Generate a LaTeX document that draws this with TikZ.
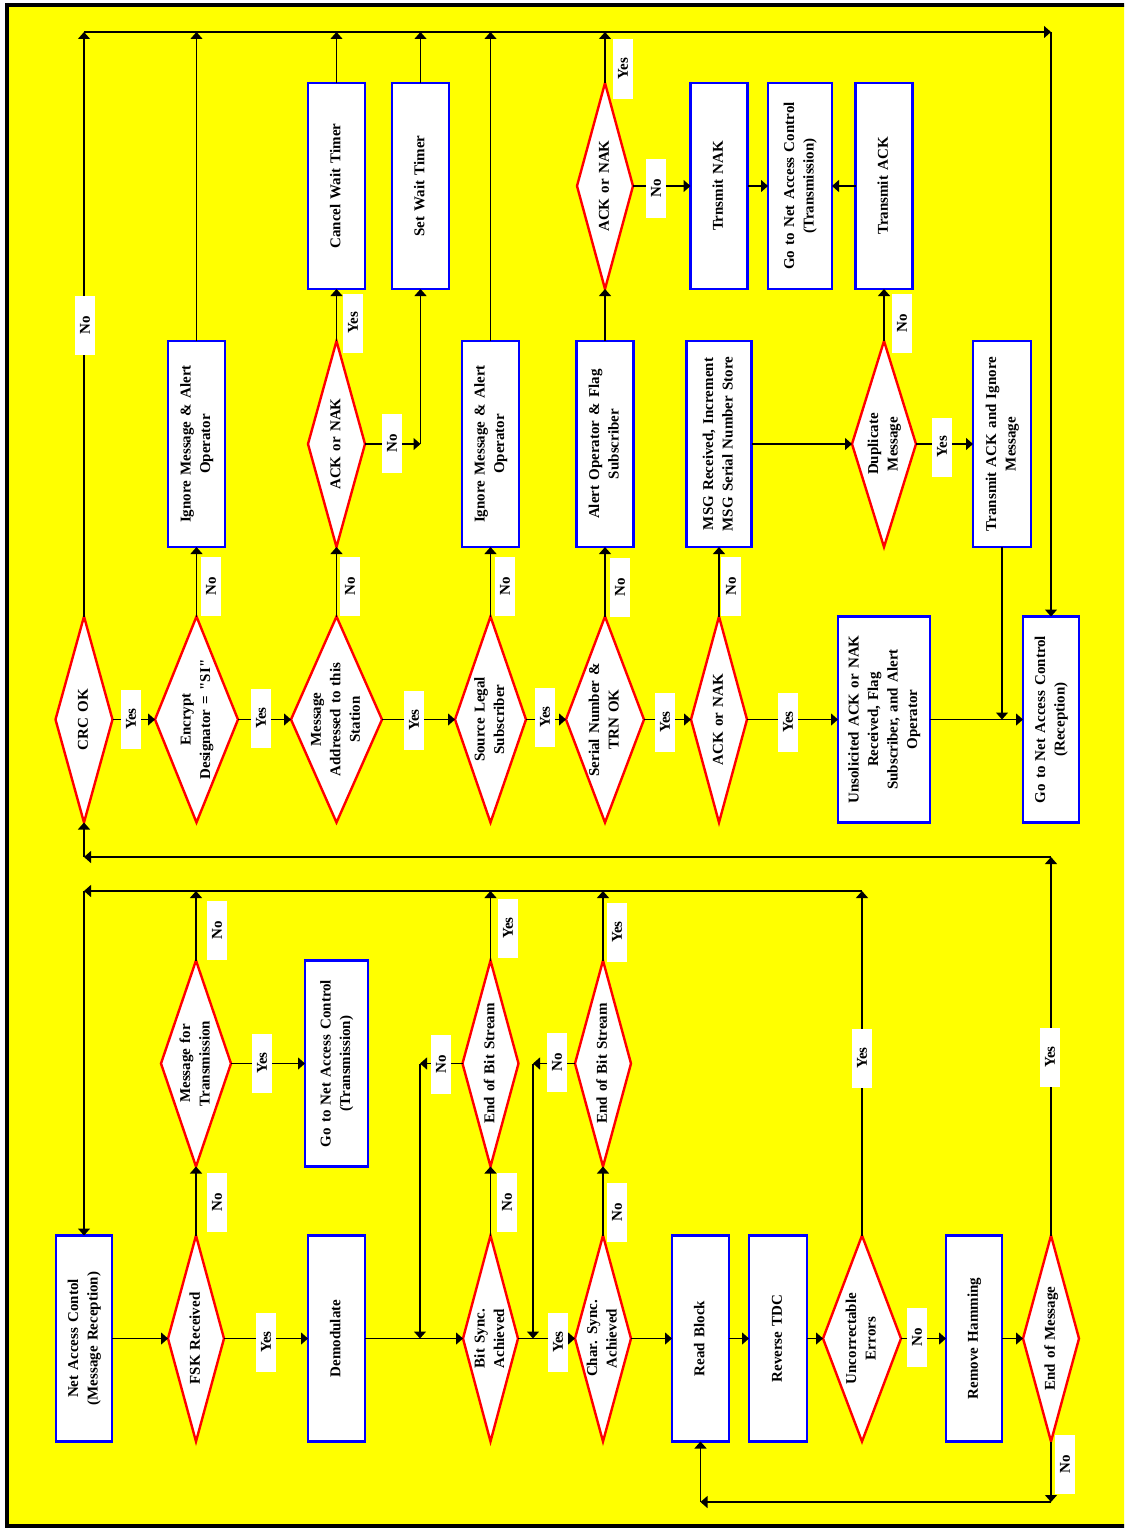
\documentclass[tikz,border=0pt]{standalone}
\usepackage{fontspec}
\setmainfont{Liberation Serif}[Ligatures=TeXOff,WordSpace=1.4]
\usetikzlibrary{shapes.geometric,arrows.meta,calc}
\definecolor{bgyel}{RGB}{255,255,0}
\definecolor{boxblue}{RGB}{0,0,255}
\definecolor{diared}{RGB}{255,0,0}
\newcommand\myfont{\fontsize{15}{19.5}\selectfont\bfseries}
\newcommand\rottxt[1]{\rotatebox{90}{\begin{tabular}{@{}c@{}}#1\end{tabular}}}
\tikzset{
  box/.style={draw=boxblue, line width=2.6pt, fill=white, inner sep=0pt, outer sep=0pt, minimum height=206pt, font=\myfont},
  dia/.style={diamond, draw=diared, line width=2.4pt, fill=white, inner sep=0pt, outer sep=0pt, minimum height=206pt},
  dtxt/.style={font=\myfont, inner sep=0pt},
  lab/.style={fill=white, inner sep=0pt, minimum width=20pt, minimum height=59pt, font=\myfont},
  arr/.style={-{Triangle[length=7pt,width=12pt]}, line width=1.3pt},
}
\begin{document}
\begin{tikzpicture}[x=1pt,y=-1pt]
\useasboundingbox (0,0) rectangle (1124,1528);
\fill[white] (0,0) rectangle (1124,1528);
\begin{scope}
\clip (0,0) rectangle (1124,1528);
\draw[line width=4pt, fill=bgyel] (6.5,5) rectangle (1140,1525.5);
\end{scope}
\coordinate (ytop) at (0,32);
\coordinate (yb1) at (0,857);
\coordinate (yb2) at (0,891);
\coordinate (yb3) at (0,1502);
\coordinate (j1) at (420,0);
\coordinate (j2) at (533,0);

% ---------- top half, main row ----------
\node[dia,minimum width=57pt,label={[dtxt]center:\rottxt{CRC OK}}] (crc) at (84,719.5) {};
\node[dia,minimum width=83pt,label={[dtxt]center:\rottxt{Encrypt\\Designator = "SI"}}] (enc) at (196.5,719.5) {};
\node[dia,minimum width=91pt,label={[dtxt]center:\rottxt{Message\\Addressed to this\\Station}}] (madr) at (336.5,719.5) {};
\node[dia,minimum width=71pt,label={[dtxt]center:\rottxt{Source Legal\\Subscriber}}] (src) at (490.5,719.5) {};
\node[dia,minimum width=78pt,label={[dtxt]center:\rottxt{Serial Number \&\\TRN OK}}] (ser) at (605,719.5) {};
\node[dia,minimum width=56pt,label={[dtxt]center:\rottxt{ACK or NAK}}] (ack1) at (719,719.5) {};
\node[box,minimum width=92pt] (unsol) at (884,719.5) {\rottxt{Unsolicited ACK or NAK\\Received, Flag\\Subscriber, and Alert\\Operator}};
\node[box,minimum width=56pt] (nacr) at (1051,719.5) {\rottxt{Go to Net Access Control\\(Reception)}};

% ---------- second row ----------
\node[box,minimum width=57pt] (ign1) at (196.5,444) {\rottxt{Ignore Message \& Alert\\Operator}};
\node[dia,minimum width=57pt,label={[dtxt]center:\rottxt{ACK or NAK}}] (ack2) at (336.5,444) {};
\node[box,minimum width=57pt] (ign2) at (490.5,444) {\rottxt{Ignore Message \& Alert\\Operator}};
\node[box,minimum width=57pt] (alert) at (605,444) {\rottxt{Alert Operator \& Flag\\Subscriber}};
\node[box,minimum width=65pt] (msg) at (719,444) {\rottxt{MSG Received, Increment\\MSG Serial Number Store}};
\node[dia,minimum width=64pt,label={[dtxt]center:\rottxt{Duplicate\\Message}}] (dup) at (884,444) {};
\node[box,minimum width=58pt] (tai) at (1002,444) {\rottxt{Transmit ACK and Ignore\\Message}};

% ---------- third row ----------
\node[box,minimum width=57pt] (cwt) at (336.5,186) {\rottxt{Cancel Wait Timer}};
\node[box,minimum width=57pt] (swt) at (420.5,186) {\rottxt{Set Wait Timer}};
\node[dia,minimum width=56pt,label={[dtxt]center:\rottxt{ACK or NAK}}] (ack3) at (605,186) {};
\node[box,minimum width=57pt] (tnak) at (719,186) {\rottxt{Trnsmit NAK}};
\node[box,minimum width=64pt] (nact) at (800,186) {\rottxt{Go to Net Access Control\\(Transmission)}};
\node[box,minimum width=57pt] (tack) at (884,186) {\rottxt{Transmit ACK}};

% ---------- bottom half, upper row ----------
\node[dia,minimum width=70pt,label={[dtxt]center:\rottxt{Message for\\Transmission}}] (mtx) at (196,1063.5) {};
\node[box,minimum width=63pt] (nact2) at (336.5,1063.5) {\rottxt{Go to Net Access Control\\(Transmission)}};
\node[dia,minimum width=56pt,label={[dtxt]center:\rottxt{End of Bit Stream}}] (ebs1) at (490.5,1063.5) {};
\node[dia,minimum width=56pt,label={[dtxt]center:\rottxt{End of Bit Stream}}] (ebs2) at (603,1063.5) {};

% ---------- bottom half, lower row ----------
\node[box,minimum width=56pt] (nac) at (84,1338.5) {\rottxt{Net Access Contol\\(Message Reception)}};
\node[dia,minimum width=56pt,label={[dtxt]center:\rottxt{FSK Received}}] (fsk) at (196,1338.5) {};
\node[box,minimum width=57pt] (dem) at (336.5,1338.5) {\rottxt{Demodulate}};
\node[dia,minimum width=55pt,label={[dtxt]center:\rottxt{Bit Sync.\\Achieved}}] (bsync) at (490.5,1338.5) {};
\node[dia,minimum width=56pt,label={[dtxt]center:\rottxt{Char. Sync.\\Achieved}}] (csync) at (603,1338.5) {};
\node[box,minimum width=57pt] (rb) at (700.5,1338.5) {\rottxt{Read Block}};
\node[box,minimum width=58pt] (rtdc) at (778,1338.5) {\rottxt{Reverse TDC}};
\node[dia,minimum width=78pt,label={[dtxt]center:\rottxt{Uncorrectable\\Errors}}] (unc) at (862,1338.5) {};
\node[box,minimum width=56pt] (rh) at (974,1338.5) {\rottxt{Remove Hamming}};
\node[dia,minimum width=56pt,label={[dtxt]center:\rottxt{End of Message}}] (eom) at (1051,1338.5) {};

% ---------- connectors, top half ----------
\draw[arr] (crc.east) -- (enc.west);
\draw[arr] (enc.east) -- (madr.west);
\draw[arr] (madr.east) -- (src.west);
\draw[arr] (src.east) -- (ser.west);
\draw[arr] (ser.east) -- (ack1.west);
\draw[arr] (ack1.east) -- (unsol.west);
\draw[arr] (unsol.east) -- (nacr.west);
\draw[arr] (enc.north) -- (ign1.south);
\draw[arr] (madr.north) -- (ack2.south);
\draw[arr] (src.north) -- (ign2.south);
\draw[arr] (ser.north) -- (alert.south);
\draw[arr] (ack1.north) -- (msg.south);
\draw[arr] (ack2.north) -- (cwt.south);
\draw[arr] (alert.north) -- (ack3.south);
\draw[arr] (ack3.east) -- (tnak.west);
\draw[arr] (tnak.east) -- (nact.west);
\draw[arr] (tack.west) -- (nact.east);
\draw[arr] (dup.north) -- (tack.south);
\draw[arr] (msg.east) -- (dup.west);
\draw[arr] (dup.east) -- (tai.west);
\draw[arr] (tai.south) -- (tai.south |- nacr.west);
\draw[arr] (ack2.east) -- (swt.south |- ack2.east);
\draw[arr] (swt.south |- ack2.east) -- (swt.south);
\foreach \n in {crc,ign1,cwt,swt,ign2,ack3}
  \draw[arr] (\n.north) -- (\n.north |- ytop);
\draw[arr] (crc.north |- ytop) -- (nacr.north |- ytop);
\draw[arr] (nacr.north |- ytop) -- (nacr.north);

% ---------- connectors, bottom half ----------
\draw[arr] (nac.east) -- (fsk.west);
\draw[arr] (fsk.east) -- (dem.west);
\draw[arr] (fsk.north) -- (mtx.south);
\draw[arr] (mtx.east) -- (nact2.west);
\draw[arr] (dem.east) -- (bsync.west);
\draw[arr] (bsync.north) -- (ebs1.south);
\draw[arr] (bsync.east) -- (csync.west);
\draw[arr] (csync.north) -- (ebs2.south);
\draw[arr] (csync.east) -- (rb.west);
\draw[arr] (rb.east) -- (rtdc.west);
\draw[arr] (rtdc.east) -- (unc.west);
\draw[arr] (unc.east) -- (rh.west);
\draw[arr] (rh.east) -- (eom.west);
\draw[arr] (ebs1.west) -- (j1 |- ebs1.west);
\draw[arr] (j1 |- ebs1.west) -- (j1 |- bsync.west);
\draw[arr] (ebs2.west) -- (j2 |- ebs2.west);
\draw[arr] (j2 |- ebs2.west) -- (j2 |- csync.west);
\foreach \n in {mtx,ebs1,ebs2,unc}
  \draw[arr] (\n.north) -- (\n.north |- yb2);
\draw[arr] (unc.north |- yb2) -- (nac.north |- yb2);
\draw[arr] (nac.north |- yb2) -- (nac.north);
\draw[arr] (eom.north) -- (eom.north |- yb1);
\draw[arr] (eom.north |- yb1) -- (crc.south |- yb1);
\draw[arr] (crc.south |- yb1) -- (crc.south);
\draw[arr] (eom.south) -- (eom.south |- yb3);
\draw[arr] (eom.south |- yb3) -- (rb.south |- yb3);
\draw[arr] (rb.south |- yb3) -- (rb.south);

% ---------- Yes / No labels ----------
\node[lab] (l1) at (85,325) {\rotatebox{90}{No}};
\node[lab] (l2) at (131,719) {\rotatebox{90}{Yes}};
\node[lab] (l3) at (261,718) {\rotatebox{90}{Yes}};
\node[lab] (l4) at (211,586) {\rotatebox{90}{No}};
\node[lab] (l5) at (350,586) {\rotatebox{90}{No}};
\node[lab] (l6) at (353,323) {\rotatebox{90}{Yes}};
\node[lab] (l7) at (392,443) {\rotatebox{90}{No}};
\node[lab] (l8) at (414,720) {\rotatebox{90}{Yes}};
\node[lab] (l9) at (505,586) {\rotatebox{90}{No}};
\node[lab] (l10) at (545,717) {\rotatebox{90}{Yes}};
\node[lab] (l11) at (620,587) {\rotatebox{90}{No}};
\node[lab] (l12) at (665,722) {\rotatebox{90}{Yes}};
\node[lab] (l13) at (731,586) {\rotatebox{90}{No}};
\node[lab] (l14) at (788,722) {\rotatebox{90}{Yes}};
\node[lab] (l15) at (942,447) {\rotatebox{90}{Yes}};
\node[lab] (l16) at (902,323) {\rotatebox{90}{No}};
\node[lab] (l17) at (623,69) {\rotatebox{90}{Yes}};
\node[lab] (l18) at (656,188) {\rotatebox{90}{No}};
\node[lab] (l19) at (217,930) {\rotatebox{90}{No}};
\node[lab] (l20) at (262,1063) {\rotatebox{90}{Yes}};
\node[lab] (l21) at (217,1202) {\rotatebox{90}{No}};
\node[lab] (l22) at (266,1342) {\rotatebox{90}{Yes}};
\node[lab] (l23) at (508,928) {\rotatebox{90}{Yes}};
\node[lab] (l24) at (617,932) {\rotatebox{90}{Yes}};
\node[lab] (l25) at (441,1064) {\rotatebox{90}{No}};
\node[lab] (l26) at (557,1062) {\rotatebox{90}{No}};
\node[lab] (l27) at (507,1202) {\rotatebox{90}{No}};
\node[lab] (l28) at (617,1212) {\rotatebox{90}{No}};
\node[lab] (l29) at (558,1342) {\rotatebox{90}{Yes}};
\node[lab] (l30) at (862,1058) {\rotatebox{90}{Yes}};
\node[lab] (l31) at (1050,1057) {\rotatebox{90}{Yes}};
\node[lab] (l32) at (917,1337) {\rotatebox{90}{No}};
\node[lab] (l33) at (1065,1464) {\rotatebox{90}{No}};
\end{tikzpicture}
\end{document}
